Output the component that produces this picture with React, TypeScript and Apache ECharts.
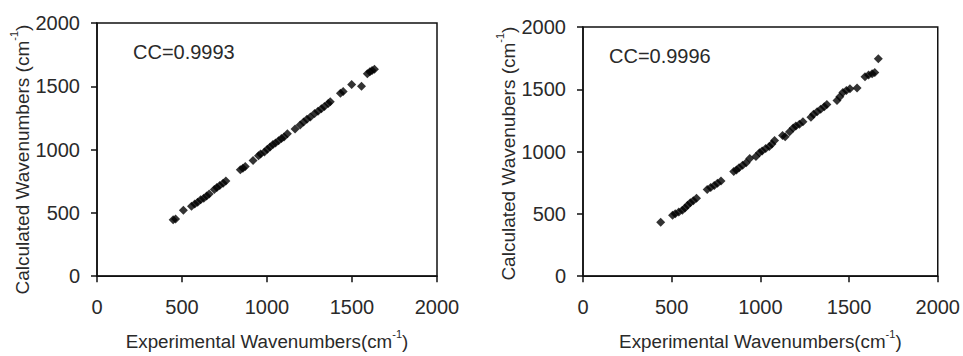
import React, { useEffect, useRef } from "react";
import * as echarts from "echarts";

const axisTicks = [0, 500, 1000, 1500, 2000];

// Left panel: experimental vs calculated wavenumbers (cm-1)
const leftExp = [448, 462, 508, 556, 575, 592, 610, 628, 645, 660, 690, 705, 722, 742, 758, 843, 858, 872, 918, 950, 962, 985, 1002, 1018, 1035, 1050, 1068, 1085, 1100, 1120, 1165, 1195, 1215, 1235, 1255, 1280, 1300, 1320, 1338, 1360, 1372, 1432, 1448, 1498, 1556, 1590, 1605, 1618, 1632];
const leftCalc = [445, 452, 520, 552, 570, 585, 603, 616, 633, 650, 685, 700, 716, 735, 752, 841, 853, 866, 914, 951, 965, 982, 1003, 1020, 1040, 1052, 1070, 1088, 1100, 1125, 1162, 1195, 1218, 1240, 1258, 1285, 1302, 1322, 1340, 1365, 1378, 1445, 1458, 1515, 1500, 1600, 1615, 1625, 1635];

// Right panel
const rightExp = [438, 505, 520, 540, 560, 575, 590, 605, 622, 640, 700, 720, 740, 758, 778, 850, 865, 880, 900, 920, 940, 975, 995, 1010, 1030, 1050, 1065, 1080, 1125, 1140, 1165, 1185, 1200, 1220, 1240, 1285, 1300, 1320, 1340, 1360, 1375, 1432, 1448, 1465, 1485, 1505, 1545, 1590, 1610, 1630, 1645, 1665];
const rightCalc = [432, 490, 502, 515, 530, 548, 570, 590, 605, 625, 695, 712, 728, 745, 765, 840, 852, 870, 890, 910, 945, 960, 990, 1005, 1025, 1040, 1060, 1090, 1130, 1120, 1160, 1190, 1205, 1220, 1240, 1275, 1300, 1320, 1340, 1360, 1378, 1410, 1440, 1475, 1490, 1505, 1510, 1600, 1615, 1625, 1635, 1745];

const ccLabels = ["CC=0.9993", "CC=0.9996"];
const xTitle = "Experimental Wavenumbers(cm";
const yTitles = ["Calculated Wavenumbers (cm", "Calculated Wavenubers (cm"];

const FONT = "'Liberation Sans', Arial, Helvetica, sans-serif";
const TEXT = "#2a2a2a";

function makeRich(size: number) {
  return {
    a: { fontSize: size, fontFamily: FONT, color: TEXT, lineHeight: size + 4, verticalAlign: "bottom" as const },
    s: { fontSize: 11, fontFamily: FONT, color: TEXT, lineHeight: size + 4, verticalAlign: "top" as const },
  };
}

function makeX(gridIndex: number) {
  return {
    type: "value",
    gridIndex,
    min: axisTicks[0],
    max: axisTicks[axisTicks.length - 1],
    interval: 500,
    name: `{a|${xTitle}}{s|-1}{a|)}`,
    nameLocation: "middle",
    nameGap: 52,
    nameTextStyle: { rich: makeRich(18.8) },
    axisLine: { show: true, lineStyle: { color: "#111", width: 1.5 } },
    axisTick: { show: true, length: 6, lineStyle: { color: "#111", width: 1.5 } },
    axisLabel: { fontSize: 20, fontFamily: FONT, color: TEXT, margin: 21, formatter: (v: number) => String(v) },
    splitLine: { show: false },
  };
}

function makeY(gridIndex: number, title: string, gap: number, pad: number) {
  return {
    type: "value",
    gridIndex,
    min: axisTicks[0],
    max: axisTicks[axisTicks.length - 1],
    interval: 500,
    name: `{a|${title}}{s|-1}{a|)}`,
    nameLocation: "middle",
    nameGap: gap,
    nameTextStyle: { rich: makeRich(19), padding: [0, pad, 0, 0] },
    axisLine: { show: true, lineStyle: { color: "#111", width: 1.5 } },
    axisTick: { show: true, length: 6, lineStyle: { color: "#111", width: 1.5 } },
    axisLabel: { fontSize: 20, fontFamily: FONT, color: TEXT, margin: 17, formatter: (v: number) => String(v) },
    splitLine: { show: false },
  };
}

export default function App() {
  const ref = useRef<HTMLDivElement>(null);
  useEffect(() => {
    if (!ref.current) return;
    const chart = echarts.init(ref.current, null, { renderer: "svg" });
    const leftData = leftExp.map((v, i) => [v, leftCalc[i]]);
    const rightData = rightExp.map((v, i) => [v, rightCalc[i]]);
    chart.setOption({
      animation: false,
      backgroundColor: "#ffffff",
      grid: [
        { left: 97, top: 23, width: 340, height: 256, show: true, borderColor: "#111", borderWidth: 1.5, backgroundColor: "transparent" },
        { left: 583, top: 27, width: 355, height: 250, show: true, borderColor: "#111", borderWidth: 1.5, backgroundColor: "transparent" },
      ],
      xAxis: [makeX(0), makeX(1)],
      yAxis: [makeY(0, yTitles[0], 60, 20), makeY(1, yTitles[1], 57, 4)],
      series: [
        {
          type: "scatter",
          xAxisIndex: 0,
          yAxisIndex: 0,
          data: leftData,
          symbol: "diamond",
          symbolSize: 9,
          itemStyle: { color: "#000" },
        },
        {
          type: "scatter",
          xAxisIndex: 1,
          yAxisIndex: 1,
          data: rightData,
          symbol: "diamond",
          symbolSize: 9,
          itemStyle: { color: "#000" },
        },
      ],
      graphic: [
        {
          type: "text",
          x: 133,
          y: 42,
          style: { text: ccLabels[0], fontSize: 20, fontFamily: FONT, fill: TEXT },
        },
        {
          type: "text",
          x: 609,
          y: 46,
          style: { text: ccLabels[1], fontSize: 20, fontFamily: FONT, fill: TEXT },
        },
      ],
    });
    return () => chart.dispose();
  }, []);
  return (
    <div
      ref={ref}
      style={{ position: "fixed", left: 0, top: 0, width: 963, height: 356, background: "#fff" }}
    />
  );
}
